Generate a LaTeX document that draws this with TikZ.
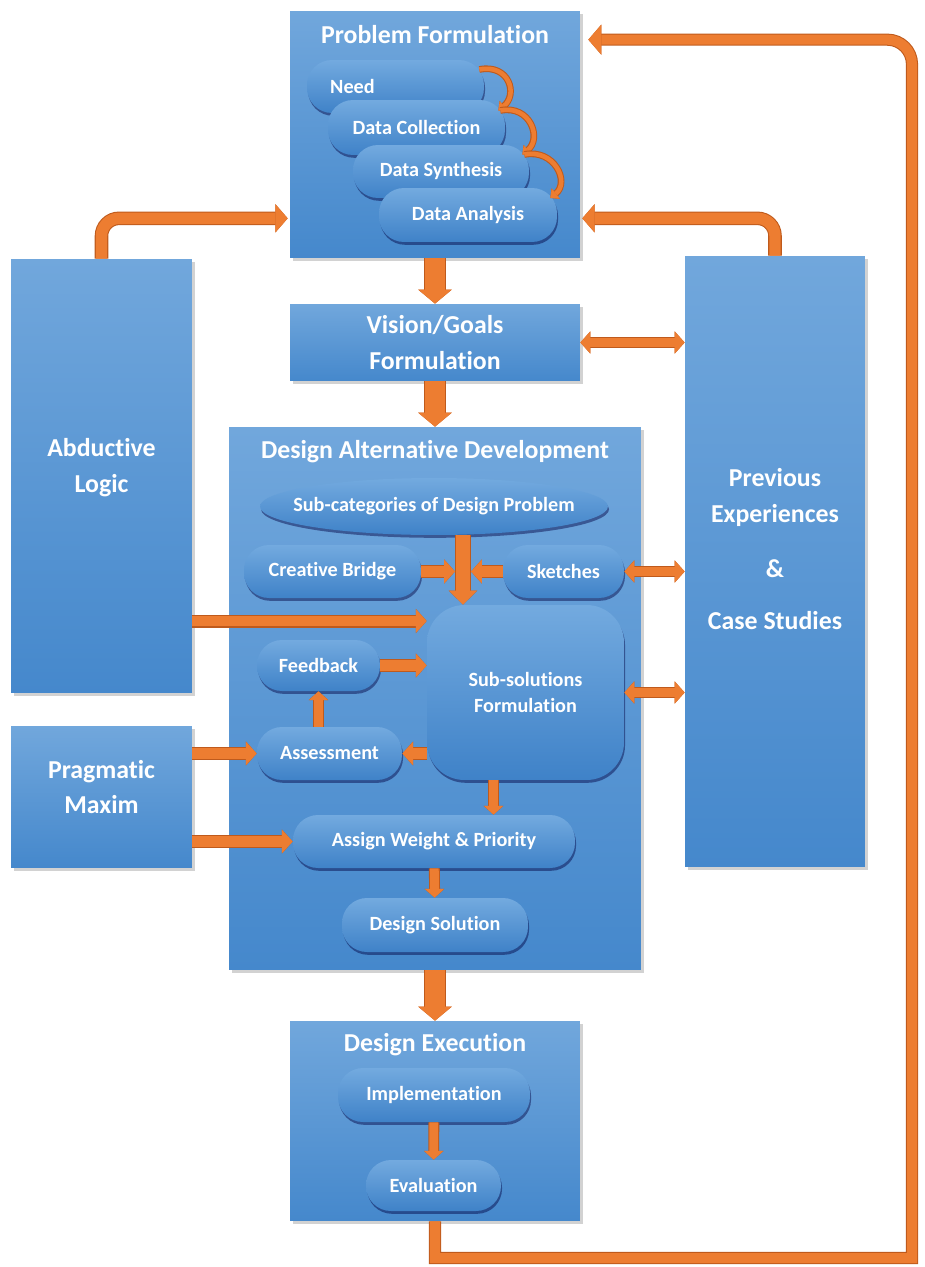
\documentclass[tikz,border=0pt]{standalone}
\usepackage{fontspec}
\setmainfont[Ligatures=NoCommon]{Carlito}
\usepackage{tikz}
\usetikzlibrary{arrows.meta,calc,shapes,shadows}
\definecolor{arrowfill}{HTML}{ED7D31}
\definecolor{arrowline}{HTML}{BF5A1C}
\definecolor{boxtop}{HTML}{71A7DC}
\definecolor{boxbot}{HTML}{4588CC}
\definecolor{pilltop}{HTML}{73AADF}
\definecolor{pillbot}{HTML}{3F82C8}
\tikzset{
    box/.style={rectangle, top color=boxtop, bottom color=boxbot, text=white, align=center, inner sep=0pt,
        font=\bfseries\fontsize{14.7}{20.4}\selectfont,
        drop shadow={shadow xshift=1.5pt, shadow yshift=-1.5pt, opacity=0.25, fill=black!70}},
    title/.style={text=white, font=\bfseries\fontsize{14.7}{18}\selectfont, inner sep=0pt},
    pill/.style={rectangle, rounded corners=#1, top color=pilltop, bottom color=pillbot, text=white, align=center, inner sep=0pt,
        font=\bfseries\fontsize{11.5}{14.5}\selectfont,
        drop shadow={shadow xshift=0.6pt, shadow yshift=-1.6pt, opacity=0.45, fill=black!75!blue}},
    pill/.default=0.5cm,
    oval/.style={pill, ellipse},
    fat/.style n args={3}{draw=arrowfill, line width=#1, -{Triangle[length=#3, width=#2, line width=0pt]},
        preaction={draw=arrowline, line width=#1+1.2pt, -{Triangle[length=#3, width=#2, line width=1.2pt]}}},
    fatboth/.style n args={3}{draw=arrowfill, line width=#1,
        {Triangle[length=#3, width=#2, line width=0pt]}-{Triangle[length=#3, width=#2, line width=0pt]},
        preaction={draw=arrowline, line width=#1+1.2pt,
        {Triangle[length=#3, width=#2, line width=1.2pt]}-{Triangle[length=#3, width=#2, line width=1.2pt]}}},
    bigarrow/.style={fat={11pt}{19pt}{8pt}},
    downarrow/.style={fat={7.5pt}{16pt}{8pt}},
    midarrow/.style={fat={6.2pt}{13.6pt}{6.2pt}},
    elbowarrow/.style={fat={6.5pt}{16pt}{7pt}, rounded corners=10pt},
    smallarrow/.style={fat={5pt}{11pt}{5pt}},
    bothway/.style={fatboth={5pt}{12.5pt}{5.7pt}},
    loopline/.style={fat={5.7pt}{17pt}{7.4pt}},
    curl/.style={fat={2.6pt}{7.5pt}{4pt}}
}

\begin{document}
\begin{tikzpicture}[x=0.02cm, y=-0.02cm]
\useasboundingbox (0,0) rectangle (925,1267);

% main column
\node[box, minimum width=5.8cm, minimum height=4.94cm] (pf) at (435,134.5) {};
\node[title] (pftitle) at (435,35) {Problem Formulation};
\node[box, minimum width=5.8cm, minimum height=1.54cm] (vg) at (435,342.5) {Vision/Goals\\Formulation};
\node[box, minimum width=8.24cm, minimum height=10.86cm] (dad) at (435,698.5) {};
\node[title] (dadtitle) at (435,452) {Design Alternative Development};
\node[box, minimum width=5.8cm, minimum height=4cm] (de) at (435,1121) {};
\node[title] (detitle) at (435,1045) {Design Execution};

% side columns
\node[box, minimum width=3.62cm, minimum height=8.68cm, text depth=12pt] (abd) at (101.5,476) {Abductive\\Logic};
\node[box, minimum width=3.62cm, minimum height=2.84cm, text depth=11.5pt] (prag) at (101.5,797) {Pragmatic\\Maxim};
\node[box, minimum width=3.6cm, minimum height=12.22cm, text depth=14pt] (prev) at (775,561.5) {Previous\\Experiences\\[10.5pt]\&\\[9.5pt]Case Studies};

% problem formulation steps
\node[pill, minimum width=3.54cm, minimum height=1.06cm] (need) at (395.5,86.5) {Need\hspace*{49pt}};
\node[pill, minimum width=3.54cm, minimum height=1.1cm] (dc) at (416.5,127.5) {Data Collection};
\node[pill, minimum width=3.52cm, minimum height=1.06cm] (ds) at (441,171.5) {Data Synthesis};
\node[pill, minimum width=3.56cm, minimum height=1.08cm] (da) at (468,215) {Data Analysis};
\foreach \a/\b in {need/dc, dc/ds, ds/da} {
    \draw[curl] ($(\a.east)+(-5,-17)$) .. controls +(30,-6) and +(20,-16) .. ($(\b.east)+(-7,-17)$);
}

% design alternative development
\node[oval, minimum width=6.96cm, minimum height=1.14cm] (subcat) at (434,506.5) {\makebox[0pt]{Sub-categories of Design Problem}};
\node[pill, minimum width=3.54cm, minimum height=1.06cm] (cb) at (332.5,571.5) {Creative Bridge};
\node[pill, minimum width=2.42cm, minimum height=1.06cm] (sk) at (563.5,571.5) {Sketches};
\node[pill=0.75cm, minimum width=3.94cm, minimum height=3.5cm] (ss) at (525.5,692.5) {Sub-solutions\\Formulation};
\node[pill, minimum width=2.46cm, minimum height=1.02cm] (fb) at (318.5,665.5) {Feedback};
\node[pill, minimum width=2.9cm, minimum height=1.06cm] (as) at (329.5,753.5) {Assessment};
\node[pill, minimum width=5.64cm, minimum height=1.06cm] (aw) at (434,841.5) {Assign Weight \& Priority};
\node[pill, minimum width=3.72cm, minimum height=1.08cm] (dsol) at (435,925) {Design Solution};

% design execution
\node[pill, minimum width=3.84cm, minimum height=1.08cm] (impl) at (434,1095) {Implementation};
\node[pill, minimum width=2.7cm, minimum height=1.02cm] (eval) at (433.5,1185.5) {Evaluation};

% arrows between main boxes
\draw[bigarrow] (pf) -- (vg);
\draw[bigarrow] (vg) -- (dad);
\draw[bigarrow] (dad) -- (de);
\draw[bothway] (vg) -- (vg -| prev.west);

% feeding the problem formulation
\coordinate (pfleft) at ($(pf.south west)+(-2,-40)$);
\coordinate (pfright) at ($(pf.south east)+(2,-40)$);
\draw[elbowarrow] (abd.north) |- (pfleft);
\draw[elbowarrow] (prev.north) |- (pfright);

% loop back from execution
\coordinate (loopcorner) at (912,1258);
\coordinate (pftop) at ($(pf.north east)+(8,29)$);
\draw[loopline] (de.south) |- (loopcorner) [rounded corners=14pt] -- (loopcorner |- pftop) -- (pftop);

% inside design alternative development
\coordinate (junction) at (463,571.5);
\draw[midarrow] (cb) -- ($(junction)+(-8,0)$);
\draw[midarrow] (sk) -- ($(junction)+(8,0)$);
\draw[downarrow] (subcat.south -| junction) -- (ss.north -| junction);
\draw[bothway] (sk) -- (sk -| prev.west);
\draw[bothway] (ss) -- (ss -| prev.west);
\draw[midarrow] (abd.east |- 0,621) -- (ss.west |- 0,621);
\draw[midarrow] (fb) -- (fb -| ss.west);
\draw[smallarrow] (fb.south |- as.north) -- (fb.south);
\draw[midarrow] (ss.west |- as) -- (as);
\draw[midarrow] (prag.east |- as) -- (as);
\draw[midarrow] (prag.east |- aw) -- (aw);
\coordinate (ssout) at ($(ss.south)+(-32,0)$);
\draw[smallarrow] (ssout) -- (ssout |- aw.north);
\draw[smallarrow] (aw) -- (dsol);
\draw[smallarrow] (impl) -- (eval);
\end{tikzpicture}
\end{document}
